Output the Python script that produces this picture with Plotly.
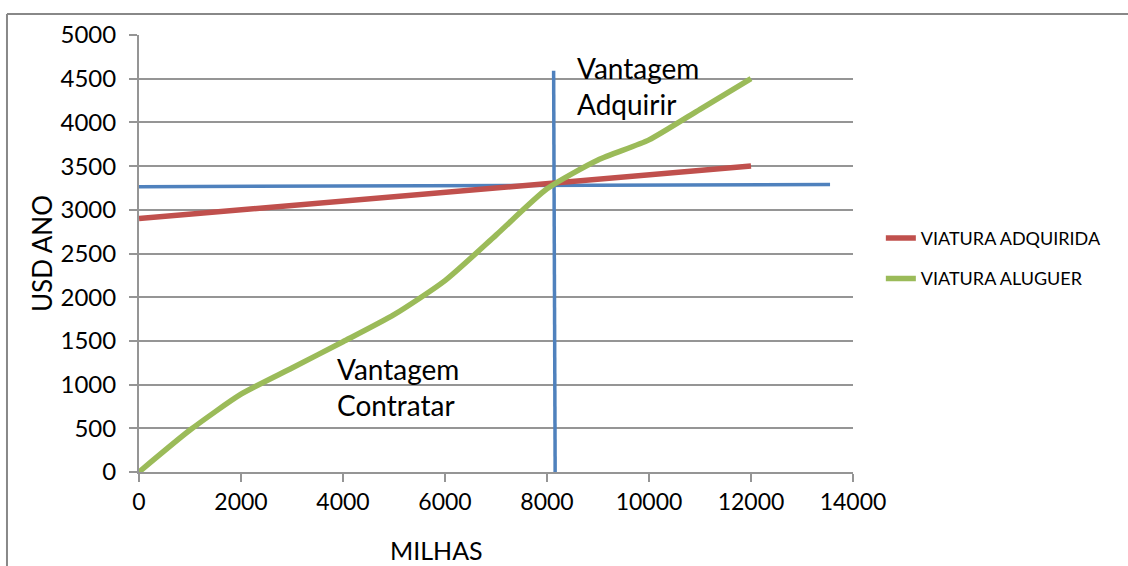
import plotly.graph_objects as go

# Data
milhas = [0, 1000, 2000, 3000, 4000, 5000, 6000, 7000, 8000, 9000, 10000, 11000, 12000]
viatura_adquirida = [2900, 2950, 3000, 3050, 3100, 3150, 3200, 3250, 3300, 3350, 3400, 3450, 3500]
viatura_aluguer = [0, 480, 890, 1190, 1490, 1800, 2190, 2710, 3240, 3570, 3800, 4150, 4500]
limiar_h_x = [0, 13550]
limiar_h_y = [3265, 3290]
limiar_v_x = [8160, 8130]
limiar_v_y = [0, 4590]
x_ticks = [0, 2000, 4000, 6000, 8000, 10000, 12000, 14000]
y_ticks = [0, 500, 1000, 1500, 2000, 2500, 3000, 3500, 4000, 4500, 5000]

FONT = "Lato, 'Open Sans', sans-serif"
RED = "#C0504D"
GREEN = "#9BBB59"
BLUE = "#4F81BD"
GRID = "#959595"

fig = go.Figure()
fig.add_trace(go.Scatter(x=limiar_h_x, y=limiar_h_y, mode="lines",
                         line=dict(color=BLUE, width=3.5), showlegend=False, hoverinfo="skip"))
fig.add_trace(go.Scatter(x=limiar_v_x, y=limiar_v_y, mode="lines",
                         line=dict(color=BLUE, width=3.5), showlegend=False, hoverinfo="skip"))
fig.add_trace(go.Scatter(x=milhas, y=viatura_adquirida, mode="lines", name="VIATURA ADQUIRIDA",
                         legendgroup="a", line=dict(color=RED, width=5.5)))
fig.add_trace(go.Scatter(x=milhas, y=viatura_aluguer, mode="lines", name="VIATURA ALUGUER",
                         legendgroup="b", line=dict(color=GREEN, width=5.5, shape="spline", smoothing=0.6)))

fig.add_annotation(x=8550, y=4420, xref="x", yref="y", text="Vantagem<br>Adquirir",
                   showarrow=False, xanchor="left", yanchor="middle", align="left",
                   font=dict(family=FONT, size=28, color="#000"))
fig.add_annotation(x=3850, y=975, xref="x", yref="y", text="Vantagem<br>Contratar",
                   showarrow=False, xanchor="left", yanchor="middle", align="left",
                   font=dict(family=FONT, size=28, color="#000"))
# x-axis title (placed left of centre, as in the original)
fig.add_annotation(x=0.416, y=-0.178, xref="paper", yref="paper", text="MILHAS",
                   showarrow=False, xanchor="center", yanchor="middle",
                   font=dict(family=FONT, size=25, color="#000"))

# outer frame (top and left edges)
fig.add_shape(type="line", xref="paper", yref="paper", x0=-0.1849, x1=1.5, y0=1.048, y1=1.048,
              line=dict(color="#888888", width=2))
fig.add_shape(type="line", xref="paper", yref="paper", x0=-0.1849, x1=-0.1849, y0=-0.3, y1=1.048,
              line=dict(color="#888888", width=2))

fig.update_layout(
    width=1128, height=566, autosize=False,
    margin=dict(l=139, r=275, t=35, b=94),
    paper_bgcolor="white", plot_bgcolor="white",
    font=dict(family=FONT, color="#000"),
    legend=dict(x=1.039, y=0.489, xanchor="left", yanchor="middle",
                font=dict(family=FONT, size=18, color="#000"),
                tracegroupgap=14, bgcolor="rgba(0,0,0,0)"),
    xaxis=dict(range=[0, 14000], tickvals=x_ticks, ticktext=[str(v) for v in x_ticks],
               showgrid=False, zeroline=False, showline=True, linecolor=GRID, linewidth=2,
               ticks="outside", ticklen=8, tickcolor=GRID, tickwidth=2, automargin=False,
               tickfont=dict(family=FONT, size=23, color="#000")),
    yaxis=dict(range=[0, 5000], tickvals=y_ticks, ticktext=[str(v) for v in y_ticks],
               showgrid=True, gridcolor=GRID, gridwidth=2, zeroline=False,
               showline=True, linecolor=GRID, linewidth=2, automargin=False,
               ticks="outside", ticklen=8, tickcolor=GRID, tickwidth=2, ticklabelstandoff=8,
               tickfont=dict(family=FONT, size=24, color="#000"),
               title=dict(text="USD ANO", font=dict(family=FONT, size=26, color="#000"), standoff=0)),
)

fig.write_html("out.html", config={"displayModeBar": False},
               post_script="document.body.style.margin='0';document.body.style.overflow='hidden';")
